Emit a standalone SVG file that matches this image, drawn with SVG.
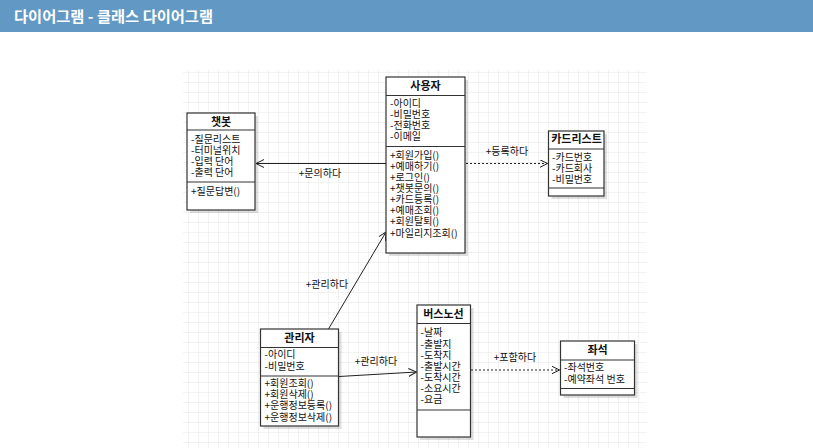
<svg xmlns="http://www.w3.org/2000/svg" width="813" height="448" viewBox="0 0 813 448">
<style>
.t{font-family:"Noto Sans CJK KR","Noto Sans",sans-serif;font-size:10px;fill:#111}
.h{font-family:"Noto Sans CJK KR","Noto Sans",sans-serif;font-size:11px;font-weight:bold;fill:#111;text-anchor:middle}
.lb{font-family:"Noto Sans CJK KR","Noto Sans",sans-serif;font-size:10px;fill:#111;text-anchor:middle}
.box{fill:#fff;stroke:#333;stroke-width:1.2}
.sh{fill:#000;opacity:0.13}
.sep{stroke:#333;stroke-width:1.2}
.c{stroke:#222;stroke-width:1;fill:none}
.d{stroke:#222;stroke-width:1;fill:none;stroke-dasharray:2 2}
</style>
<defs>
<pattern id="grid" x="179" y="63" width="10" height="10" patternUnits="userSpaceOnUse">
<path d="M10,0 L10,10 M0,10 L10,10" fill="none" stroke="#e4e4e4" stroke-width="1"/>
</pattern>
<marker id="oa" markerWidth="10" markerHeight="10" refX="8" refY="4" orient="auto" markerUnits="userSpaceOnUse">
<path d="M0,0 L8,4 L0,8" fill="none" stroke="#222" stroke-width="1"/>
</marker>
</defs>
<rect x="0" y="0" width="813" height="448" fill="#fff"/>
<rect x="0" y="0" width="813" height="32" fill="#6199c4"/>
<text x="14" y="21.5" font-family="Noto Sans CJK KR,Noto Sans,sans-serif" font-size="15" font-weight="bold" fill="#fff" textLength="199" lengthAdjust="spacingAndGlyphs">다이어그램 - 클래스 다이어그램</text>
<rect x="183" y="70" width="464" height="378" fill="url(#grid)"/>

<g id="connectors">
<line class="c" x1="386" y1="163.5" x2="256" y2="163.5" marker-end="url(#oa)"/>
<text class="lb" x="320" y="177">+문의하다</text>
<line class="d" x1="466" y1="163.5" x2="547.5" y2="163.5" marker-end="url(#oa)"/>
<text class="lb" x="507" y="154.5">+등록하다</text>
<line class="c" x1="328.5" y1="329" x2="386" y2="232" marker-end="url(#oa)"/>
<text class="lb" x="327" y="287.5">+관리하다</text>
<line class="c" x1="339" y1="376.5" x2="416.5" y2="372" marker-end="url(#oa)"/>
<text class="lb" x="376" y="365">+관리하다</text>
<line class="d" x1="471" y1="370" x2="559.5" y2="370" marker-end="url(#oa)"/>
<text class="lb" x="515" y="361">+포함하다</text>
</g>

<g id="chatbot">
<rect class="sh" x="190" y="116" width="68" height="97"/>
<rect class="box" x="187" y="113" width="68" height="97"/>
<line class="sep" x1="187" y1="130" x2="255" y2="130"/>
<line class="sep" x1="187" y1="182" x2="255" y2="182"/>
<text class="h" x="221" y="125.5">챗봇</text>
<text class="t" x="191" y="142.5">-질문리스트</text>
<text class="t" x="191" y="153.5">-터미널위치</text>
<text class="t" x="191" y="164.5">-입력 단어</text>
<text class="t" x="191" y="175.5">-출력 단어</text>
<text class="t" x="191" y="194.5">+질문답변()</text>
</g>

<g id="user">
<rect class="sh" x="389" y="80" width="79" height="176"/>
<rect class="box" x="386" y="77" width="79" height="176"/>
<line class="sep" x1="386" y1="95.5" x2="465" y2="95.5"/>
<line class="sep" x1="386" y1="146.5" x2="465" y2="146.5"/>
<text class="h" x="425.5" y="90">사용자</text>
<text class="t" x="390" y="106.5">-아이디</text>
<text class="t" x="390" y="117.5">-비밀번호</text>
<text class="t" x="390" y="128.5">-전화번호</text>
<text class="t" x="390" y="139.5">-이메일</text>
<text class="t" x="390" y="158.5">+회원가입()</text>
<text class="t" x="390" y="169.5">+예매하기()</text>
<text class="t" x="390" y="180.5">+로그인()</text>
<text class="t" x="390" y="191.5">+챗봇문의()</text>
<text class="t" x="390" y="203">+카드등록()</text>
<text class="t" x="390" y="214">+예매조회()</text>
<text class="t" x="390" y="225">+회원탈퇴()</text>
<text class="t" x="390" y="236.5">+마일리지조회()</text>
</g>

<g id="cardlist">
<rect class="sh" x="551.5" y="134" width="55.5" height="65"/>
<rect class="box" x="548.5" y="131" width="55.5" height="65"/>
<line class="sep" x1="548.5" y1="149" x2="604" y2="149"/>
<line class="sep" x1="548.5" y1="188" x2="604" y2="188"/>
<text class="h" x="576.5" y="143">카드리스트</text>
<text class="t" x="552" y="161">-카드번호</text>
<text class="t" x="552" y="172">-카드회사</text>
<text class="t" x="552" y="183">-비밀번호</text>
</g>

<g id="admin">
<rect class="sh" x="263.5" y="332" width="78" height="97"/>
<rect class="box" x="260.5" y="329" width="78" height="97"/>
<line class="sep" x1="260.5" y1="347.5" x2="338.5" y2="347.5"/>
<line class="sep" x1="260.5" y1="376" x2="338.5" y2="376"/>
<text class="h" x="299.5" y="342">관리자</text>
<text class="t" x="264.5" y="357.5">-아이디</text>
<text class="t" x="264.5" y="369.5">-비밀번호</text>
<text class="t" x="264.5" y="386.5">+회원조회()</text>
<text class="t" x="264.5" y="397.5">+회원삭제()</text>
<text class="t" x="264.5" y="409">+운행정보등록()</text>
<text class="t" x="264.5" y="420.5">+운행정보삭제()</text>
</g>

<g id="busroute">
<rect class="sh" x="420" y="308" width="53.5" height="132"/>
<rect class="box" x="417" y="305" width="53.5" height="132"/>
<line class="sep" x1="417" y1="323.5" x2="470.5" y2="323.5"/>
<line class="sep" x1="417" y1="410" x2="470.5" y2="410"/>
<text class="h" x="443.5" y="318">버스노선</text>
<text class="t" x="420.5" y="336">-날짜</text>
<text class="t" x="420.5" y="347.5">-출발지</text>
<text class="t" x="420.5" y="358.5">-도착지</text>
<text class="t" x="420.5" y="369.5">-출발시간</text>
<text class="t" x="420.5" y="380.5">-도착시간</text>
<text class="t" x="420.5" y="391.5">-소요시간</text>
<text class="t" x="420.5" y="402.5">-요금</text>
</g>

<g id="seat">
<rect class="sh" x="563.5" y="344" width="74" height="54"/>
<rect class="box" x="560.5" y="341" width="74" height="54"/>
<line class="sep" x1="560.5" y1="360" x2="634.5" y2="360"/>
<line class="sep" x1="560.5" y1="388.5" x2="634.5" y2="388.5"/>
<text class="h" x="597.5" y="354">좌석</text>
<text class="t" x="564" y="371">-좌석번호</text>
<text class="t" x="564" y="382.5">-예약좌석 번호</text>
</g>
</svg>
